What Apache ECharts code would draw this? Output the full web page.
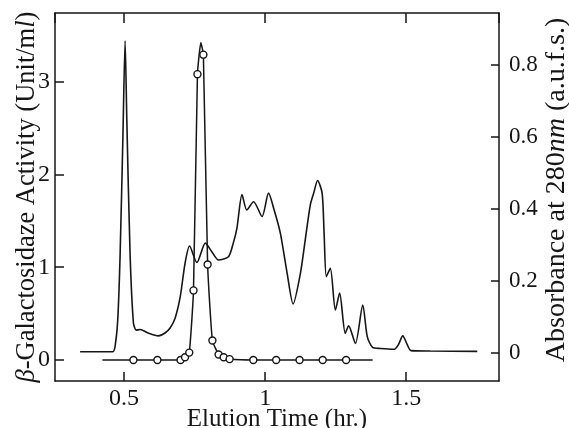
<!DOCTYPE html>
<html>
<head>
<meta charset="utf-8">
<script src="https://cdn.jsdelivr.net/npm/echarts@6/dist/echarts.min.js"></script>
<style>
  html, body { margin: 0; padding: 0; background: #fff; }
  #main { width: 569px; height: 428px; }
</style>
</head>
<body>
<div id="main"></div>
<script>
// elution time (hr.) vs absorbance at 280nm
var absTime = [0.344, 0.460, 0.470, 0.478, 0.486, 0.496, 0.5035, 0.5096, 0.521, 0.533, 0.543, 0.557, 0.585, 0.622, 0.645, 0.663, 0.681, 0.699, 0.716, 0.732, 0.758, 0.788, 0.811, 0.835, 0.870, 0.887, 0.900, 0.918, 0.935, 0.959, 0.989, 1.012, 1.032, 1.054, 1.078, 1.099, 1.125, 1.143, 1.160, 1.172, 1.186, 1.202, 1.209, 1.217, 1.231, 1.249, 1.264, 1.284, 1.296, 1.320, 1.346, 1.362, 1.381, 1.409, 1.458, 1.472, 1.488, 1.503, 1.517, 1.586, 1.752];
var absValue = [0.003, 0.003, 0.03, 0.10, 0.278, 0.61, 0.868, 0.648, 0.278, 0.083, 0.063, 0.065, 0.055, 0.047, 0.055, 0.069, 0.097, 0.156, 0.249, 0.297, 0.251, 0.305, 0.281, 0.258, 0.267, 0.305, 0.347, 0.440, 0.397, 0.420, 0.379, 0.444, 0.397, 0.332, 0.221, 0.136, 0.221, 0.319, 0.411, 0.444, 0.479, 0.444, 0.332, 0.212, 0.235, 0.119, 0.166, 0.054, 0.075, 0.026, 0.133, 0.045, 0.015, 0.012, 0.010, 0.022, 0.047, 0.024, 0.006, 0.005, 0.004];

// beta-galactosidase activity (Unit/ml); 1 = measured fraction (circle), 0 = curve only
var actTime = [0.423, 0.533, 0.618, 0.700, 0.716, 0.731, 0.746, 0.760, 0.772, 0.781, 0.796, 0.813, 0.835, 0.853, 0.874, 0.958, 1.039, 1.122, 1.204, 1.287, 1.381];
var actValue = [0, 0, 0, 0, 0.03, 0.08, 0.75, 3.08, 3.42, 3.29, 1.03, 0.21, 0.06, 0.03, 0.01, 0, 0, 0, 0, 0, 0];
var actMeasured = [0, 1, 1, 1, 1, 1, 1, 1, 0, 1, 1, 1, 1, 1, 1, 1, 1, 1, 1, 1, 0];

var xTicks = [0.5, 1, 1.5];
var leftTicks = [0, 1, 2, 3];
var rightTicks = [0, 0.2, 0.4, 0.6, 0.8];

var ink = '#161616';
var serif = '"Liberation Serif", "DejaVu Serif", serif';

function onTick(list) {
	return function (v) {
		for (var i = 0; i < list.length; i++) {
			if (Math.abs(v - list[i]) < 1e-6) return String(list[i]);
		}
		return '';
	};
}

var absData = [];
for (var i = 0; i < absTime.length; i++) {
	absData.push([absTime[i], absValue[i]]);
}
var actData = [];
for (var j = 0; j < actTime.length; j++) {
	actData.push({
		value: [actTime[j], actValue[j]],
		symbol: actMeasured[j] ? 'circle' : 'none'
	});
}

var myChart = echarts.init(document.getElementById('main'), null, { renderer: 'canvas' });
var option = {
	animation: false,
	backgroundColor: '#fff',
	grid: {
		left: 55, right: 70, top: 13, bottom: 47,
		containLabel: false,
		outerBoundsMode: 'none',
		show: false
	},
	xAxis: [
		{
			type: 'value',
			position: 'bottom',
			min: 0.255, max: 1.829,
			splitNumber: 3,
			name: 'Elution Time (hr.)',
			nameLocation: 'middle',
			nameGap: 26,
			nameMoveOverlap: false,
			nameTextStyle: { fontFamily: serif, fontSize: 25, color: ink },
			axisLine: { show: true, onZero: false, lineStyle: { color: ink, width: 1.5 } },
			axisTick: { show: true, inside: true, length: 9, lineStyle: { color: ink, width: 1.5 } },
			axisLabel: {
				show: true, margin: 6, showMinLabel: false, showMaxLabel: false,
				fontFamily: serif, fontSize: 24, color: ink,
				formatter: onTick(xTicks)
			},
			splitLine: { show: false }
		},
		{
			type: 'value',
			position: 'top',
			min: 0.255, max: 1.829,
			splitNumber: 3,
			axisLine: { show: true, onZero: false, lineStyle: { color: ink, width: 1.5 } },
			axisTick: { show: true, inside: true, length: 10, lineStyle: { color: ink, width: 1.5 } },
			axisLabel: { show: false },
			splitLine: { show: false }
		}
	],
	yAxis: [
		{
			type: 'value',
			position: 'left',
			min: -0.226, max: 3.739,
			splitNumber: 4,
			name: '{i|β}-Galactosidaze Activity (Unit/m{i|l})',
			nameLocation: 'middle',
			nameRotate: 90,
			nameGap: 14,
			nameMoveOverlap: false,
			nameTextStyle: {
				fontFamily: serif, fontSize: 26.5, color: ink,
				rich: { i: { fontFamily: serif, fontSize: 26.5, fontStyle: 'italic', color: ink } }
			},
			axisLine: { show: true, onZero: false, lineStyle: { color: ink, width: 1.5 } },
			axisTick: { show: true, inside: true, length: 9, lineStyle: { color: ink, width: 1.5 } },
			axisLabel: {
				show: true, margin: 5, showMinLabel: false, showMaxLabel: false,
				fontFamily: serif, fontSize: 24, color: ink,
				formatter: onTick(leftTicks)
			},
			splitLine: { show: false }
		},
		{
			type: 'value',
			position: 'right',
			min: -0.0784, max: 0.945,
			splitNumber: 5,
			name: 'Absorbance at 280{i|nm} (a.u.f.s.)',
			nameLocation: 'middle',
			nameRotate: 90,
			nameGap: 44,
			nameMoveOverlap: false,
			nameTextStyle: {
				fontFamily: serif, fontSize: 28, color: ink,
				padding: [0, 0, 0, 14],
				rich: { i: { fontFamily: serif, fontSize: 28, fontStyle: 'italic', color: ink } }
			},
			axisLine: { show: true, onZero: false, lineStyle: { color: ink, width: 1.5 } },
			axisTick: { show: true, inside: true, length: 8, lineStyle: { color: ink, width: 1.5 } },
			axisLabel: {
				show: true, margin: 10, showMinLabel: false, showMaxLabel: false,
				fontFamily: serif, fontSize: 23, color: ink,
				formatter: onTick(rightTicks)
			},
			splitLine: { show: false }
		}
	],
	series: [
		{
			name: 'Absorbance',
			type: 'line',
			xAxisIndex: 0,
			yAxisIndex: 1,
			data: absData,
			showSymbol: false,
			smooth: 0.25,
			lineStyle: { color: ink, width: 1.6 },
			z: 2
		},
		{
			name: 'Activity',
			type: 'line',
			xAxisIndex: 0,
			yAxisIndex: 0,
			data: actData,
			symbolSize: 7,
			smooth: 0.15,
			lineStyle: { color: ink, width: 1.5 },
			itemStyle: { color: '#fff', borderColor: ink, borderWidth: 1.4 },
			z: 3
		}
	]
};
myChart.setOption(option);
</script>
</body>
</html>
